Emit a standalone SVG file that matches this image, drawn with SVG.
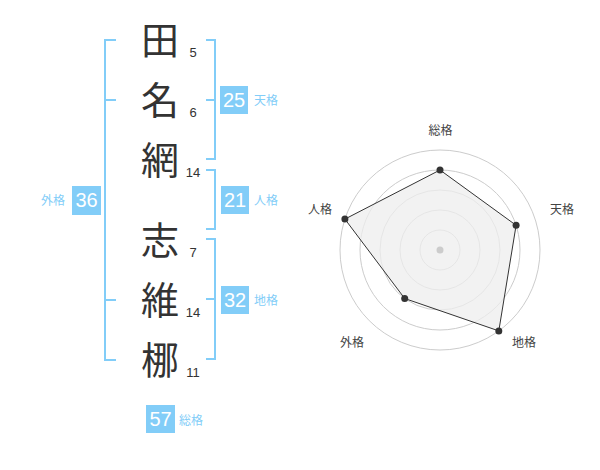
<svg xmlns="http://www.w3.org/2000/svg" width="600" height="470" viewBox="0 0 600 470">
<style>
.kanji{font-family:"Noto Sans CJK JP","Noto Sans CJK SC",sans-serif;font-size:38px;fill:#333;text-anchor:middle}
.num{font-family:"Liberation Sans",Arial,sans-serif;font-size:13px;fill:#333;text-anchor:middle}
.br{fill:none;stroke:#82cdf8;stroke-width:2}
.box{fill:#82cdf8}
.bnum{font-family:"Liberation Sans",Arial,sans-serif;font-size:20px;fill:#fff;text-anchor:middle}
.blab{font-family:"Noto Sans CJK JP","Noto Sans CJK SC",sans-serif;font-size:12px;fill:#82cdf8}
.ring{fill:none;stroke:#ccc;stroke-width:1}
.rlab{font-family:"Noto Sans CJK JP","Noto Sans CJK SC",sans-serif;font-size:12px;fill:#444;text-anchor:middle}
.dot{fill:#333}
</style>
<rect width="600" height="470" fill="#fff"/>
<g id="name">
<g id="c1"><text class="kanji" x="160" y="54">田</text><text class="num" x="193" y="57">5</text></g>
<g id="c2"><text class="kanji" x="160" y="114">名</text><text class="num" x="193" y="117">6</text></g>
<g id="c3"><text class="kanji" x="160" y="174">網</text><text class="num" x="193" y="177">14</text></g>
<g id="c4"><text class="kanji" x="160" y="254">志</text><text class="num" x="193" y="257">7</text></g>
<g id="c5"><text class="kanji" x="160" y="314">維</text><text class="num" x="193" y="317">14</text></g>
<g id="c6"><text class="kanji" x="160" y="374">梛</text><text class="num" x="193" y="377">11</text></g>
</g>
<g id="brackets">
<path class="br" d="M116 40H105V360H116M105 100H116M105 300H116"/>
<path class="br" d="M206 40H215V159H206M215 100H206"/>
<path class="br" d="M206 170H215V229H206"/>
<path class="br" d="M206 239H215V359H206M215 299H206"/>
</g>
<g id="tenkaku"><rect class="box" x="220" y="86" width="28" height="28"/><text class="bnum" x="234" y="107">25</text><text class="blab" x="254" y="105">天格</text></g>
<g id="jinkaku"><rect class="box" x="221" y="186" width="28" height="28"/><text class="bnum" x="235" y="207">21</text><text class="blab" x="254" y="205">人格</text></g>
<g id="chikaku"><rect class="box" x="221" y="286" width="28" height="28"/><text class="bnum" x="235" y="307">32</text><text class="blab" x="254" y="305">地格</text></g>
<g id="gaikaku"><rect class="box" x="72" y="186" width="29" height="29"/><text class="bnum" x="86.5" y="207">36</text><text class="blab" x="41" y="205">外格</text></g>
<g id="soukaku"><rect class="box" x="146" y="405" width="29" height="28"/><text class="bnum" x="160.5" y="426">57</text><text class="blab" x="179" y="425">総格</text></g>
<g id="radar">
<circle class="ring" cx="440" cy="250" r="20"/>
<circle class="ring" cx="440" cy="250" r="40"/>
<circle class="ring" cx="440" cy="250" r="60"/>
<circle class="ring" cx="440" cy="250" r="80"/>
<circle class="ring" cx="440" cy="250" r="100"/>
<polygon points="440,170 516.1,225.3 498.8,330.9 404.7,298.5 344.9,219.1" fill="#eee" fill-opacity="0.75" stroke="#333" stroke-width="1"/>
<circle cx="440" cy="250" r="3.5" fill="#ccc"/>
<circle class="dot" cx="440" cy="170" r="3.5"/>
<circle class="dot" cx="516.1" cy="225.3" r="3.5"/>
<circle class="dot" cx="498.8" cy="330.9" r="3.5"/>
<circle class="dot" cx="404.7" cy="298.5" r="3.5"/>
<circle class="dot" cx="344.9" cy="219.1" r="3.5"/>
<text class="rlab" x="440.5" y="135">総格</text>
<text class="rlab" x="562" y="214">天格</text>
<text class="rlab" x="320" y="214">人格</text>
<text class="rlab" x="352" y="347">外格</text>
<text class="rlab" x="524" y="347">地格</text>
</g>
</svg>
